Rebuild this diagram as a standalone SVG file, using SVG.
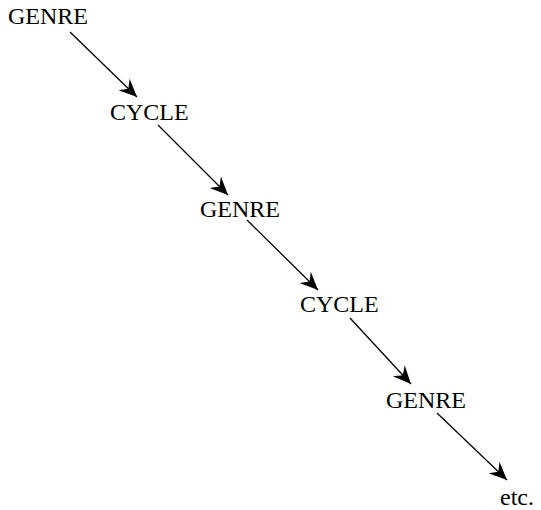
<svg xmlns="http://www.w3.org/2000/svg" width="541" height="510" viewBox="0 0 541 510">
  <style>
    .lbl { font-family: "Liberation Serif", "DejaVu Serif", serif; font-size: 24px; fill: #000; }
    .edge { stroke: #000; stroke-width: 1.3; fill: none; marker-end: url(#head); }
  </style>
  <defs>
    <!-- concave filled arrowhead shared by every connector -->
    <marker id="head" markerUnits="userSpaceOnUse" markerWidth="22" markerHeight="18" viewBox="-19 -9 22 18" refX="0" refY="0" orient="auto">
      <path d="M0,0 L-18,-8 L-12,0 L-18,8 Z" fill="#000"/>
    </marker>
  </defs>
  <rect width="541" height="510" fill="#fff"/>
  <g id="connectors">
    <line class="edge" x1="70" y1="32" x2="137" y2="97"/>
    <line class="edge" x1="158" y1="125" x2="228" y2="195"/>
    <line class="edge" x1="247" y1="220" x2="318" y2="290"/>
    <line class="edge" x1="350" y1="318" x2="411" y2="384"/>
    <line class="edge" x1="437" y1="413" x2="507" y2="480"/>
  </g>
  <g id="genre1"><text class="lbl" x="8" y="24">GENRE</text></g>
  <g id="cycle1"><text class="lbl" x="110" y="120">CYCLE</text></g>
  <g id="genre2"><text class="lbl" x="200" y="217">GENRE</text></g>
  <g id="cycle2"><text class="lbl" x="300" y="312">CYCLE</text></g>
  <g id="genre3"><text class="lbl" x="386" y="408">GENRE</text></g>
  <g id="etc"><text class="lbl" x="500" y="505">etc.</text></g>
</svg>
